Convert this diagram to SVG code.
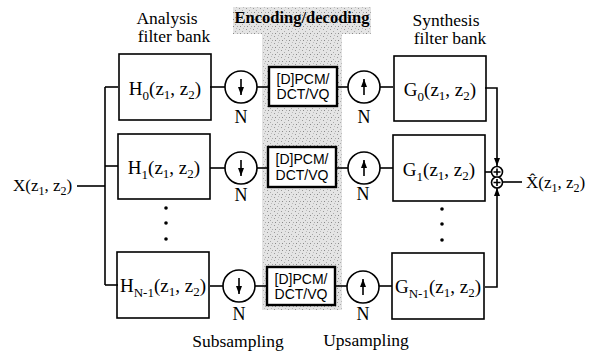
<svg xmlns="http://www.w3.org/2000/svg" width="590" height="356" viewBox="0 0 590 356">
<style>
.box{fill:none;stroke:#000;stroke-width:1.6}
.enc{fill:#fff;stroke:#000;stroke-width:2.4}
.ln{fill:none;stroke:#000;stroke-width:1.6}
.cir{fill:#fff;stroke:#000;stroke-width:1.6}
.t{font-family:"Liberation Serif","Times New Roman",serif;fill:#000}
.f{font-size:19px}
.io{font-size:17px}
.lab{font-size:17.5px}
.n{font-size:18px}
.e{font-family:"Liberation Sans",Arial,sans-serif;font-size:14px;fill:#000}
.s{font-size:13px}
.ss{font-size:12px}
</style>
<defs>
<marker id="ah" viewBox="0 0 8 8" refX="8" refY="4" markerWidth="8" markerHeight="8" markerUnits="userSpaceOnUse" orient="auto">
<path d="M0,1 L8,4 L0,7 z" fill="#000"/>
</marker>
<pattern id="stip" width="7" height="7" patternUnits="userSpaceOnUse">
<rect width="7" height="7" fill="#e4e4e4"/>
<rect x="1" y="1" width="1" height="1" fill="#999"/>
<rect x="4" y="3" width="1" height="1" fill="#aaa"/>
<rect x="2" y="5" width="1" height="1" fill="#888"/>
<rect x="5" y="0" width="1" height="1" fill="#bbb"/>
<rect x="6" y="5" width="1" height="1" fill="#aaa"/>
</pattern>
</defs>

<g id="band">
<rect x="233" y="7" width="138" height="27" fill="url(#stip)"/>
<rect x="262" y="34" width="80" height="276" fill="url(#stip)"/>
</g>

<g id="labels">
<text class="t lab" x="167" y="24" text-anchor="middle">Analysis</text>
<text class="t lab" x="174" y="42" text-anchor="middle">filter  bank</text>
<text class="t" font-size="16.5" x="302" y="23" text-anchor="middle" font-weight="bold">Encoding/decoding</text>
<text class="t lab" x="446" y="26" text-anchor="middle">Synthesis</text>
<text class="t lab" x="450" y="44" text-anchor="middle">filter  bank</text>
<text class="t lab" x="238" y="347" text-anchor="middle">Subsampling</text>
<text class="t lab" x="366" y="346" text-anchor="middle">Upsampling</text>
</g>

<g id="connectors">
<line class="ln" x1="77" y1="186" x2="105" y2="186"/>
<line class="ln" x1="105" y1="87" x2="105" y2="285"/>
<line class="ln" x1="105" y1="87" x2="118" y2="87"/>
<line class="ln" x1="105" y1="166" x2="118" y2="166"/>
<line class="ln" x1="105" y1="285" x2="118" y2="285"/>
<line class="ln" x1="210" y1="87" x2="225" y2="87"/>
<line class="ln" x1="257" y1="87" x2="269" y2="87"/>
<line class="ln" x1="337" y1="87" x2="348" y2="87"/>
<line class="ln" x1="380" y1="87" x2="393" y2="87"/>
<line class="ln" x1="210" y1="168" x2="225" y2="168"/>
<line class="ln" x1="257" y1="168" x2="268" y2="168"/>
<line class="ln" x1="336" y1="168" x2="348" y2="168"/>
<line class="ln" x1="380" y1="168" x2="393" y2="168"/>
<line class="ln" x1="210" y1="286" x2="223" y2="286"/>
<line class="ln" x1="255" y1="286" x2="268" y2="286"/>
<line class="ln" x1="335" y1="286" x2="347" y2="286"/>
<line class="ln" x1="379" y1="286" x2="392" y2="286"/>
<polyline class="ln" points="485,88 497,88 497,166" marker-end="url(#ah)"/>
<line class="ln" x1="485" y1="172" x2="491" y2="172"/>
<polyline class="ln" points="485,287 497,287 497,188" marker-end="url(#ah)"/>
<line class="ln" x1="503" y1="182" x2="522" y2="182"/>
</g>

<g id="input"><text class="t io" x="13" y="191">X(z<tspan class="ss" dy="4">1</tspan><tspan dy="-4">, z</tspan><tspan class="ss" dy="4">2</tspan><tspan dy="-4">)</tspan></text></g>

<g id="H0"><rect class="box" x="119" y="54" width="92" height="66"/>
<text class="t f" x="165" y="95" text-anchor="middle">H<tspan class="s" dy="5">0</tspan><tspan dy="-5">(z</tspan><tspan class="s" dy="4">1</tspan><tspan dy="-4">, z</tspan><tspan class="s" dy="4">2</tspan><tspan dy="-4">)</tspan></text></g>
<g id="H1"><rect class="box" x="118" y="134" width="92" height="65"/>
<text class="t f" x="164" y="174" text-anchor="middle">H<tspan class="s" dy="5">1</tspan><tspan dy="-5">(z</tspan><tspan class="s" dy="4">1</tspan><tspan dy="-4">, z</tspan><tspan class="s" dy="4">2</tspan><tspan dy="-4">)</tspan></text></g>
<g id="HN1"><rect class="box" x="117" y="252" width="92" height="66"/>
<text class="t f" x="163" y="292" text-anchor="middle">H<tspan class="s" dy="5">N-1</tspan><tspan dy="-5">(z</tspan><tspan class="s" dy="4">1</tspan><tspan dy="-4">, z</tspan><tspan class="s" dy="4">2</tspan><tspan dy="-4">)</tspan></text></g>

<g id="dotsH"><circle cx="166" cy="208" r="1.8"/><circle cx="166" cy="223" r="1.8"/><circle cx="166" cy="239" r="1.8"/></g>

<g id="down0"><circle class="cir" cx="241" cy="87" r="16"/><line class="ln" x1="241" y1="79" x2="241" y2="95" marker-end="url(#ah)"/><text class="t n" x="241" y="123" text-anchor="middle">N</text></g>
<g id="down1"><circle class="cir" cx="241" cy="168" r="16"/><line class="ln" x1="241" y1="160" x2="241" y2="176" marker-end="url(#ah)"/><text class="t n" x="241" y="201" text-anchor="middle">N</text></g>
<g id="down2"><circle class="cir" cx="239" cy="286" r="16"/><line class="ln" x1="239" y1="278" x2="239" y2="294" marker-end="url(#ah)"/><text class="t n" x="239" y="320" text-anchor="middle">N</text></g>

<g id="enc0"><rect class="enc" x="269" y="67" width="68" height="39"/><text class="e" x="303" y="84" text-anchor="middle">[D]PCM/</text><text class="e" x="303" y="99" text-anchor="middle">DCT/VQ</text></g>
<g id="enc1"><rect class="enc" x="268" y="147" width="68" height="40"/><text class="e" x="302" y="164" text-anchor="middle">[D]PCM/</text><text class="e" x="302" y="180" text-anchor="middle">DCT/VQ</text></g>
<g id="enc2"><rect class="enc" x="267" y="267" width="68" height="38"/><text class="e" x="301" y="284" text-anchor="middle">[D]PCM/</text><text class="e" x="301" y="299" text-anchor="middle">DCT/VQ</text></g>

<g id="up0"><circle class="cir" cx="364" cy="87" r="16"/><line class="ln" x1="364" y1="95" x2="364" y2="79" marker-end="url(#ah)"/><text class="t n" x="364" y="123" text-anchor="middle">N</text></g>
<g id="up1"><circle class="cir" cx="364" cy="168" r="16"/><line class="ln" x1="364" y1="176" x2="364" y2="160" marker-end="url(#ah)"/><text class="t n" x="363" y="200" text-anchor="middle">N</text></g>
<g id="up2"><circle class="cir" cx="363" cy="287" r="16"/><line class="ln" x1="363" y1="295" x2="363" y2="279" marker-end="url(#ah)"/><text class="t n" x="363" y="320" text-anchor="middle">N</text></g>

<g id="G0"><rect class="box" x="394" y="56" width="92" height="65"/>
<text class="t f" x="440" y="96" text-anchor="middle">G<tspan class="s" dy="5">0</tspan><tspan dy="-5">(z</tspan><tspan class="s" dy="4">1</tspan><tspan dy="-4">, z</tspan><tspan class="s" dy="4">2</tspan><tspan dy="-4">)</tspan></text></g>
<g id="G1"><rect class="box" x="393" y="135" width="92" height="66"/>
<text class="t f" x="439" y="176" text-anchor="middle">G<tspan class="s" dy="5">1</tspan><tspan dy="-5">(z</tspan><tspan class="s" dy="4">1</tspan><tspan dy="-4">, z</tspan><tspan class="s" dy="4">2</tspan><tspan dy="-4">)</tspan></text></g>
<g id="GN1"><rect class="box" x="392" y="253" width="92" height="66"/>
<text class="t f" x="438" y="293" text-anchor="middle">G<tspan class="s" dy="5">N-1</tspan><tspan dy="-5">(z</tspan><tspan class="s" dy="4">1</tspan><tspan dy="-4">, z</tspan><tspan class="s" dy="4">2</tspan><tspan dy="-4">)</tspan></text></g>

<g id="dotsG"><circle cx="442" cy="209" r="1.8"/><circle cx="442" cy="224" r="1.8"/><circle cx="442" cy="240" r="1.8"/></g>

<g id="add1"><circle class="cir" cx="497" cy="172" r="5.5"/><path class="ln" d="M493.5,172 H500.5 M497,168.5 V175.5" stroke-width="1.2"/></g>
<g id="add2"><circle class="cir" cx="497" cy="182.5" r="5.5"/><path class="ln" d="M493.5,182.5 H500.5 M497,179 V186" stroke-width="1.2"/></g>

<g id="output"><text class="t io" x="526" y="188">X&#770;(z<tspan class="ss" dy="4">1</tspan><tspan dy="-4">, z</tspan><tspan class="ss" dy="4">2</tspan><tspan dy="-4">)</tspan></text></g>
</svg>
